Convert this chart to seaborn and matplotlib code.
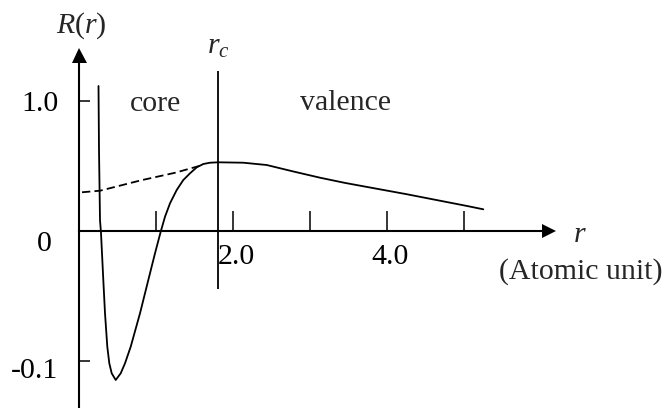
import matplotlib
matplotlib.use("Agg")
import matplotlib.pyplot as plt
from matplotlib.transforms import ScaledTranslation
import seaborn as sns
import pandas as pd

# Radial function R(r): all-electron (solid) and pseudo (dashed) wavefunction
r_true = [0.2532, 0.2597, 0.2727, 0.2857, 0.3156, 0.3377, 0.3675, 0.3935, 0.4247,
          0.4766, 0.5416, 0.5974, 0.6714, 0.7922, 0.9000, 0.9870, 1.0610, 1.1169,
          1.1818, 1.2688, 1.3545, 1.4416, 1.5286, 1.6143, 1.7013, 1.8091, 2.1338,
          2.4377, 2.7831, 3.1299, 3.4545, 3.8221, 4.2558, 4.6883, 5.0351, 5.2506]
R_true = [1.1154, 0.6231, 0.0846, -0.0154, -0.3769, -0.6331, -0.8900, -1.0177, -1.0946,
          -1.1462, -1.0946, -1.0177, -0.8900, -0.6331, -0.3769, -0.1715, -0.0054, 0.1100,
          0.2131, 0.3154, 0.3923, 0.4438, 0.4900, 0.5154, 0.5254, 0.5285, 0.5254,
          0.5077, 0.4580, 0.4100, 0.3700, 0.3300, 0.2830, 0.2330, 0.1930, 0.1669]

r_pseudo = [0.039, 0.273, 0.805, 1.247, 1.560]
R_pseudo = [0.298, 0.310, 0.390, 0.448, 0.500]

# Cutoff radius and the extent of its marker line
r_c = 1.805
rc_span = (-0.446, 1.23)

x_ticks = [1, 2, 3, 4, 5]
x_ticklabels = ["", "2.0", "", "4.0", ""]
y_ticks = [1, 0, -1]
y_ticklabels = ["1.0", "0", "-0.1"]

sns.set_style("white")
plt.rcParams["font.family"] = ["Liberation Serif", "DejaVu Serif"]
plt.rcParams["mathtext.fontset"] = "custom"
plt.rcParams["mathtext.rm"] = "Liberation Serif"
plt.rcParams["mathtext.it"] = "Liberation Serif:italic"
plt.rcParams["lines.scale_dashes"] = False

FS = 21.5

fig = plt.figure(figsize=(6.7, 4.08), dpi=100)
ax = fig.add_axes([0, 0, 1, 1])
ax.set_xlim(-1.026, 7.675)
ax.set_ylim(-1.3615, 1.777)
ax.patch.set_alpha(0)

df_true = pd.DataFrame({"r": r_true, "R": R_true})
df_pseudo = pd.DataFrame({"r": r_pseudo, "R": R_pseudo})
sns.lineplot(data=df_true, x="r", y="R", sort=False, estimator=None,
             color="black", lw=1.3, ax=ax)
sns.lineplot(data=df_pseudo, x="r", y="R", sort=False, estimator=None,
             color="black", lw=1.3, ax=ax)
ax.lines[-1].set_dashes((6, 3))
for ln in ax.lines:
    ln.set_solid_joinstyle("round")

ax.vlines(r_c, *rc_span, color="black", lw=1.3)

# Axes through the origin with arrowheads
for side in ("top", "right"):
    ax.spines[side].set_visible(False)
ax.spines["left"].set_position(("data", 0))
ax.spines["bottom"].set_position(("data", 0))
ax.spines["left"].set_bounds(-1.3615, 1.357)
ax.spines["bottom"].set_bounds(0, 6.11)
for side in ("left", "bottom"):
    ax.spines[side].set_color("black")
    ax.spines[side].set_linewidth(1.5)
ax.plot(0, 1.357, marker="^", ms=10.8, color="black", mew=0, clip_on=False)
ax.plot(6.11, 0, marker=">", ms=10.5, color="black", mew=0, clip_on=False)

ax.set_xticks(x_ticks, x_ticklabels)
ax.set_yticks(y_ticks, y_ticklabels)
ax.tick_params(axis="x", direction="in", length=14.4, width=1.1, pad=9.0,
               labelsize=FS, colors="black", bottom=True)
ax.tick_params(axis="y", direction="in", length=8, width=1.1, pad=15,
               labelsize=FS, colors="black", left=True)
ax.set_xlabel("")
ax.set_ylabel("")

for lab in ax.get_xticklabels():
    lab.set_transform(lab.get_transform() + ScaledTranslation(3.5 / 100, 0, fig.dpi_scale_trans))
ylabs = ax.get_yticklabels()
ylabs[1].set_transform(ylabs[1].get_transform() + ScaledTranslation(-6 / 100, -10 / 100, fig.dpi_scale_trans))
ylabs[2].set_transform(ylabs[2].get_transform() + ScaledTranslation(0, -7 / 100, fig.dpi_scale_trans))

ax.text(0.026, 1.523, "$R(r)$", fontsize=FS, ha="center", va="baseline")
ax.text(r_c + 0.01, 1.3615, "$r_c$", fontsize=FS, ha="center", va="baseline")
ax.text(0.987, 0.923, "core", fontsize=FS, ha="center", va="baseline")
ax.text(3.461, 0.931, "valence", fontsize=FS, ha="center", va="baseline")
ax.text(6.506, -0.082, "$r$", fontsize=FS, ha="center", va="baseline")
ax.text(6.513, -0.369, "(Atomic unit)", fontsize=FS, ha="center", va="baseline")

fig.savefig("out.png", dpi=100)
